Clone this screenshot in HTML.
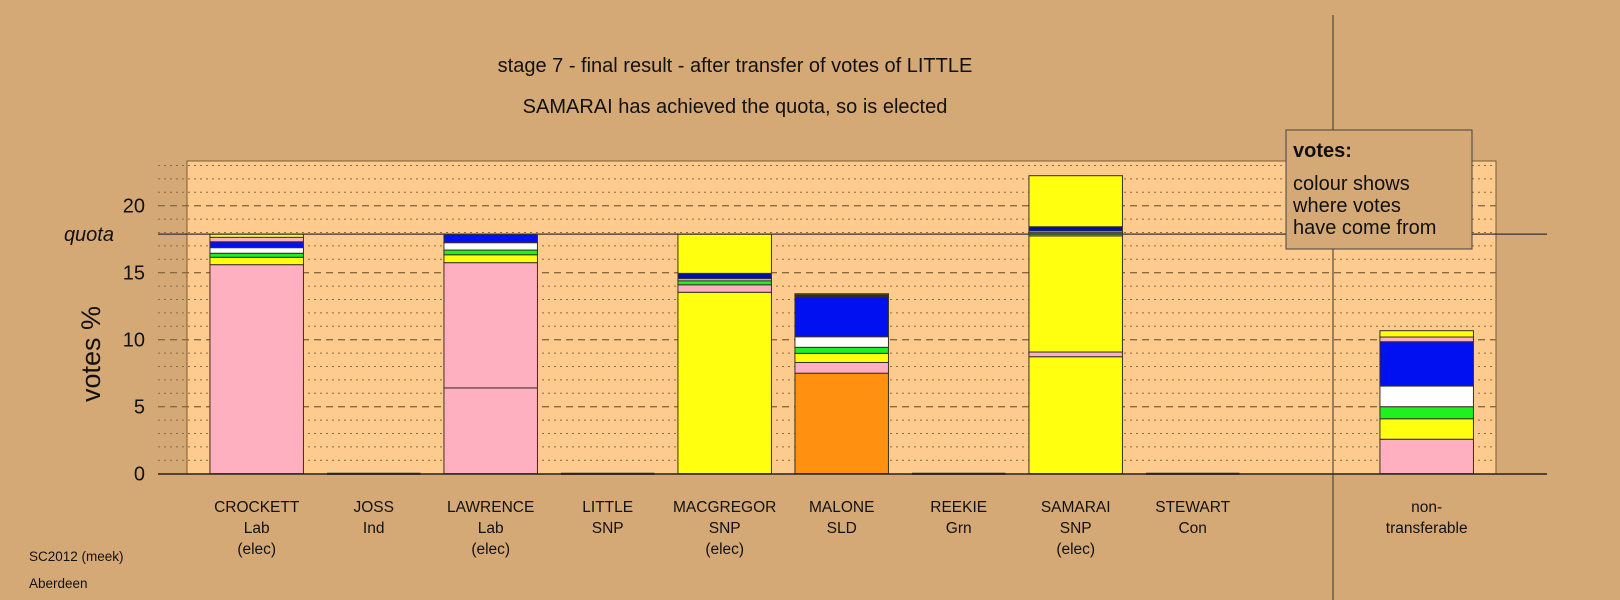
<!DOCTYPE html>
<html><head><meta charset="utf-8"><style>
html,body{margin:0;padding:0;background:#D5A976;}
svg{display:block;font-family:"Liberation Sans",Arial,sans-serif;}
</style></head><body>
<svg id="chart" width="1620" height="600" viewBox="0 0 1620 600" xmlns="http://www.w3.org/2000/svg">
<rect x="0" y="0" width="1620" height="600" fill="#D5A976"/>
<rect x="187" y="161" width="1309" height="313" fill="#FDCB8D" stroke="#7a5a30" stroke-width="1"/>
<g id="grid"></g>
<g id="bars"></g>
<line x1="158" y1="474" x2="1547" y2="474" stroke="#222" stroke-width="1.5"/>
<g id="yticks"></g>
<line id="quota-line" x1="158" x2="1547" stroke="#333" stroke-width="1.3"/>
<text id="quota-label" x="114" text-anchor="end" font-size="20" font-style="italic" fill="#111">quota</text>
<text x="0" y="0" transform="translate(100,354) rotate(-90)" text-anchor="middle" font-size="27" fill="#111">votes %</text>
<text x="735" y="72" text-anchor="middle" font-size="20" fill="#111">stage 7 - final result - after transfer of votes of LITTLE</text>
<text x="735" y="113" text-anchor="middle" font-size="20" fill="#111">SAMARAI has achieved the quota, so is elected</text>
<line x1="1333" y1="15" x2="1333" y2="600" stroke="#333" stroke-width="1"/>
<g>
<rect x="1286" y="130" width="186" height="119" fill="#D5A976" stroke="#444" stroke-width="1"/>
<text x="1293" y="157" font-size="20" font-weight="bold" fill="#111">votes:</text>
<text x="1293" y="190" font-size="20" fill="#111">colour shows</text>
<text x="1293" y="212" font-size="20" fill="#111">where votes</text>
<text x="1293" y="234" font-size="20" fill="#111">have come from</text>
</g>
<g id="xlabels"></g>
<text x="29" y="561" font-size="13.5" fill="#111">SC2012 (meek)</text>
<text x="29" y="588" font-size="13.5" fill="#111">Aberdeen</text>
</svg>
<script>
const candidates = ["CROCKETT","JOSS","LAWRENCE","LITTLE","MACGREGOR","MALONE","REEKIE","SAMARAI","STEWART","","non-transferable"];
const parties = ["Lab","Ind","Lab","SNP","SNP","SLD","Grn","SNP","Con","",""];
const status = ["(elec)","","(elec)","","(elec)","","","(elec)","","",""];
const quota = 17.88;
const yTicks = [0,5,10,15,20];
// stacked segments (bottom to top): values and colours
const segCrockett = [15.6,0.55,0.3,0.42,0.44,0.33,0.24];
const colCrockett = ["#FFB0C0","#FFFF10","#20F020","#FFFFFF","#0010F0","#FFB0C0","#FFFF10"];
const segLawrence = [6.4,9.35,0.59,0.35,0.55,0.64];
const colLawrence = ["#FFB0C0","#FFB0C0","#FFFF10","#20F020","#FFFFFF","#0010F0"];
const segMacgregor = [13.54,0.56,0.3,0.15,0.4,2.93];
const colMacgregor = ["#FFFF10","#FFB0C0","#20F020","#FFFFFF","#0010A0","#FFFF10"];
const segMalone = [7.5,0.8,0.68,0.45,0.79,2.98,0.15,0.08];
const colMalone = ["#FF9010","#FFB0C0","#FFFF10","#20F020","#FFFFFF","#0010F0","#302040","#FFFF10"];
const segSamarai = [8.73,0.35,8.66,0.25,0.12,0.32,3.81];
const colSamarai = ["#FFFF10","#FFB0C0","#FFFF10","#20F020","#D0D8FF","#0010A0","#FFFF10"];
const segNontrans = [2.57,1.53,0.9,1.54,3.31,0.35,0.47];
const colNontrans = ["#FFB0C0","#FFFF10","#20F020","#FFFFFF","#0010F0","#FFB0C0","#FFFF10"];
const stacks = [segCrockett,[],segLawrence,[],segMacgregor,segMalone,[],segSamarai,[],null,segNontrans];
const colours = [colCrockett,[],colLawrence,[],colMacgregor,colMalone,[],colSamarai,[],null,colNontrans];

const NS="http://www.w3.org/2000/svg";
const y0=473.7, pxPerUnit=13.4;
function yScale(v){return y0 - v*pxPerUnit;}
function xCenter(i){return 256.7 + 117*i;}
const barW=93.5;
function mk(tag,attrs,parent){const e=document.createElementNS(NS,tag);for(const k in attrs)e.setAttribute(k,attrs[k]);parent.appendChild(e);return e;}

const grid=document.getElementById('grid');
for(let v=1;v<=23;v++){
  const dashed = v%5===0;
  const ln=mk('line',{x1:158,x2:1496,y1:yScale(v),y2:yScale(v),stroke:'#8a6a40','stroke-width':dashed?1.3:1,'stroke-dasharray':dashed?'7,5':'2,4'},grid);
  
  
}
const yt=document.getElementById('yticks');
yTicks.forEach(v=>{
  const t=mk('text',{x:145,y:yScale(v)+7,'text-anchor':'end','font-size':20,fill:'#111'},yt);
  t.textContent=v;
  
  
});
const ql=document.getElementById('quota-line');
ql.setAttribute('y1',yScale(quota));ql.setAttribute('y2',yScale(quota));
document.getElementById('quota-label').setAttribute('y',yScale(quota)+7);

const bars=document.getElementById('bars');
stacks.forEach((segs,i)=>{
  if(segs===null)return;
  const cx=xCenter(i);
  if(segs.length===0){
    const l=mk('line',{x1:cx-barW/2,x2:cx+barW/2,y1:y0,y2:y0,stroke:'#222','stroke-width':2},bars);
    
    
    return;
  }
  let acc=0;
  segs.forEach((v,j)=>{
    const r=mk('rect',{x:cx-barW/2,y:yScale(acc+v),width:barW,height:v*pxPerUnit,fill:colours[i][j],stroke:'#3a3020','stroke-width':1},bars);
    
    
    acc+=v;
  });
});
const xl=document.getElementById('xlabels');
candidates.forEach((c,i)=>{
  if(!c)return;
  const cx=xCenter(i);
  let lines = i===10 ? ["non-","transferable"] : [c,parties[i],status[i]];
  lines.forEach((s,k)=>{
    if(!s)return;
    const t=mk('text',{x:cx,y:512+21*k,'text-anchor':'middle','font-size':15.5,fill:'#111'},xl);
    t.textContent=s;
    
    
  });
});
</script>
</body></html>
